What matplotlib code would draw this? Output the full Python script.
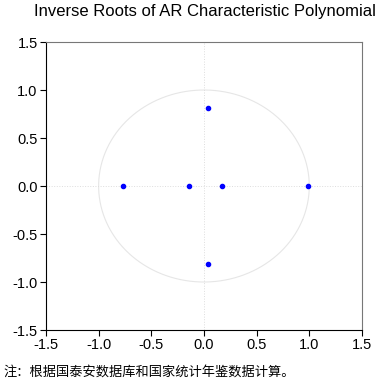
import matplotlib
matplotlib.use("Agg")
import matplotlib.pyplot as plt
import numpy as np

root_re = [-0.77, -0.14, 0.175, 0.985, 0.035, 0.035]
root_im = [0.0, 0.0, 0.0, 0.0, 0.815, -0.81]
ticks = [-1.5, -1.0, -0.5, 0.0, 0.5, 1.0, 1.5]

plt.rcParams['font.family'] = ['Liberation Sans', 'DejaVu Sans']

fig = plt.figure(figsize=(3.83, 3.84), dpi=100)
ax = fig.add_axes([0.120, 0.1406, 0.825, 0.75])

# unit circle
t = np.linspace(0, 2 * np.pi, 400)
ax.plot(np.cos(t), np.sin(t), color='#e6e6e6', lw=0.8, zorder=1)
ax.axhline(0, color='#dddddd', lw=0.7, ls=':', zorder=1)
ax.axvline(0, color='#dddddd', lw=0.7, ls=':', zorder=1)

ax.scatter(root_re, root_im, s=9, color='#0000ff', zorder=3)

ax.set_xlim(-1.5, 1.5)
ax.set_ylim(-1.5, 1.5)
ax.set_xticks(ticks)
ax.set_yticks(ticks)
ax.set_xticklabels([f"{v:.1f}" for v in ticks])
ax.set_yticklabels([f"{v:.1f}" for v in ticks])
ax.tick_params(direction='out', length=4, width=0.8, labelsize=10.5, pad=2)
ax.spines['left'].set_color('black')
ax.spines['bottom'].set_color('black')
ax.spines['top'].set_color('#777777')
ax.spines['right'].set_color('#777777')

fig.text(0.535, 0.969, 'Inverse Roots of AR Characteristic Polynomial',
         ha='center', va='center', fontsize=12)
fig.text(0.01, 0.031, '注：根据国泰安数据库和国家统计年鉴数据计算。',
         ha='left', va='center', fontsize=9.5, family=['Noto Sans CJK SC', 'DejaVu Sans'])

fig.savefig('out.png', dpi=100)
